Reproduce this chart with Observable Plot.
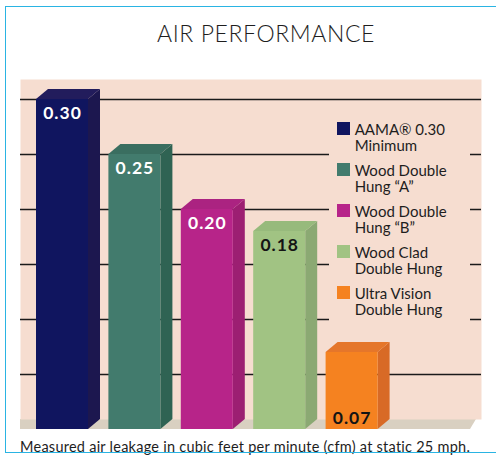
<!DOCTYPE html>
<html><head><meta charset="utf-8">
<script src="https://cdn.jsdelivr.net/npm/d3@7"></script>
<script src="https://cdn.jsdelivr.net/npm/@observablehq/plot@0.6"></script>
<style>
html,body{margin:0;padding:0;background:#fff;}
#page{position:relative;width:496px;height:455px;overflow:hidden;font-family:Lato,"Open Sans",sans-serif;color:#1e1e1e;}
#floor{position:absolute;left:20px;top:419px;width:456px;height:10px;background:#d9d0c1;clip-path:polygon(0 0,456px 0,450px 10px,0 10px);}
#chart{position:absolute;left:0;top:0;}
#title{position:absolute;left:0;top:22px;width:532px;text-align:center;font-size:23px;line-height:23px;font-weight:300;letter-spacing:0.6px;}
#caption{position:absolute;left:20px;top:440px;font-size:14.5px;line-height:14px;letter-spacing:0.25px;white-space:nowrap;}
#legend{position:absolute;left:329px;top:112px;width:141px;height:214px;background:#f6ddd0;padding-top:9.4px;box-sizing:border-box;}
.item{display:flex;align-items:flex-start;margin-bottom:9px;}
.sw{width:12.7px;height:12.7px;margin-left:8px;margin-right:5px;margin-top:0.6px;flex:none;}
.lab{font-size:15px;line-height:16px;white-space:pre-line;}
#border{position:absolute;left:5px;top:6px;width:600px;height:445px;border-left:1.6px solid #2ab4e3;border-top:1.6px solid #2ab4e3;border-bottom:1.6px solid #2ab4e3;}
</style></head><body>
<div id="page">
  <div id="floor"></div>
  <div id="chart"></div>
  <div id="legend"></div>
  <div id="title"></div>
  <div id="caption"></div>
  <div id="border"></div>
</div>
<script>
const title = "AIR PERFORMANCE";
const caption = "Measured air leakage in cubic feet per minute (cfm) at static 25 mph.";
const categories = ["AAMA® 0.30\nMinimum", "Wood Double\nHung “A”", "Wood Double\nHung “B”", "Wood Clad\nDouble Hung", "Ultra Vision\nDouble Hung"];
const values = [0.30, 0.25, 0.20, 0.18, 0.07];
const valueLabels = ["0.30", "0.25", "0.20", "0.18", "0.07"];
const frontColors = ["#10155f", "#427b6d", "#b72489", "#a1c383", "#f58220"];
const sideColors  = ["#1c174f", "#2f6353", "#9c1f72", "#8ba973", "#d86a26"];
const topColors   = ["#221c5c", "#3a6e60", "#ab2381", "#97ba7c", "#e5762a"];
const labelColors = ["#ffffff", "#ffffff", "#ffffff", "#141414", "#141414"];
const gridValues = [0.05, 0.10, 0.15, 0.20, 0.25, 0.30];

document.getElementById("title").textContent = title;
document.getElementById("caption").textContent = caption;

// geometry (in scale units)
const stepPx = 72.4;
const hw = 26 / stepPx;        // half front width
const dX = 12 / stepPx;        // depth offset x
const dY = 10 / 1100;          // depth offset y

const bars = values.map((v, i) => ({i, v, cat: categories[i], label: valueLabels[i]}));

const marks = [
  Plot.frame({fill: "#f6ddd0", stroke: null}),
  Plot.ruleY(gridValues, {stroke: "#1a1a1a", strokeWidth: 1.6})
];
bars.forEach(b => {
  const xl = b.i - hw, xr = b.i + hw;
  marks.push(Plot.areaY([{x: xr, y1: 0, y2: b.v}, {x: xr + dX, y1: dY, y2: b.v + dY}],
    {x: "x", y1: "y1", y2: "y2", fill: sideColors[b.i]}));
  marks.push(Plot.areaX([{y: b.v, x1: xl, x2: xr}, {y: b.v + dY, x1: xl + dX, x2: xr + dX}],
    {y: "y", x1: "x1", x2: "x2", fill: topColors[b.i]}));
  marks.push(Plot.rect([b], {x1: d => d.i - hw, x2: d => d.i + hw, y1: d => 0, y2: d => d.v, fill: frontColors[b.i]}));
});
const tall = bars.filter(b => b.v >= 0.1), short = bars.filter(b => b.v < 0.1);
const labelStyle = {fontSize: 17.5, fontWeight: "bold", fontFamily: "Lato, sans-serif", style: "letter-spacing:1px"};
marks.push(Plot.text(tall, {x: "i", y: "v", text: "label", dy: 19, lineAnchor: "bottom",
  fill: d => labelColors[d.i], ...labelStyle}));
marks.push(Plot.text(short, {x: "i", y: d => 0, text: "label", dy: -6, lineAnchor: "bottom",
  fill: d => labelColors[d.i], ...labelStyle}));

const chart = Plot.plot({
  width: 496, height: 455,
  marginTop: 79, marginBottom: 36, marginLeft: 20, marginRight: 15,
  x: {domain: [(20 - 62) / stepPx, (481 - 62) / stepPx], axis: null},
  y: {domain: [0, 0.3], range: [429, 99], axis: null},
  color: {type: "identity"},
  style: {background: "transparent", overflow: "visible"},
  marks
});
chart.querySelectorAll("text").forEach(t => t.style.letterSpacing = "1px");
document.getElementById("chart").appendChild(chart);

const legend = document.getElementById("legend");
categories.forEach((c, i) => {
  const it = document.createElement("div"); it.className = "item";
  const sw = document.createElement("div"); sw.className = "sw"; sw.style.background = frontColors[i];
  const lb = document.createElement("div"); lb.className = "lab"; lb.textContent = c;
  it.appendChild(sw); it.appendChild(lb); legend.appendChild(it);
});
</script>
</body></html>
